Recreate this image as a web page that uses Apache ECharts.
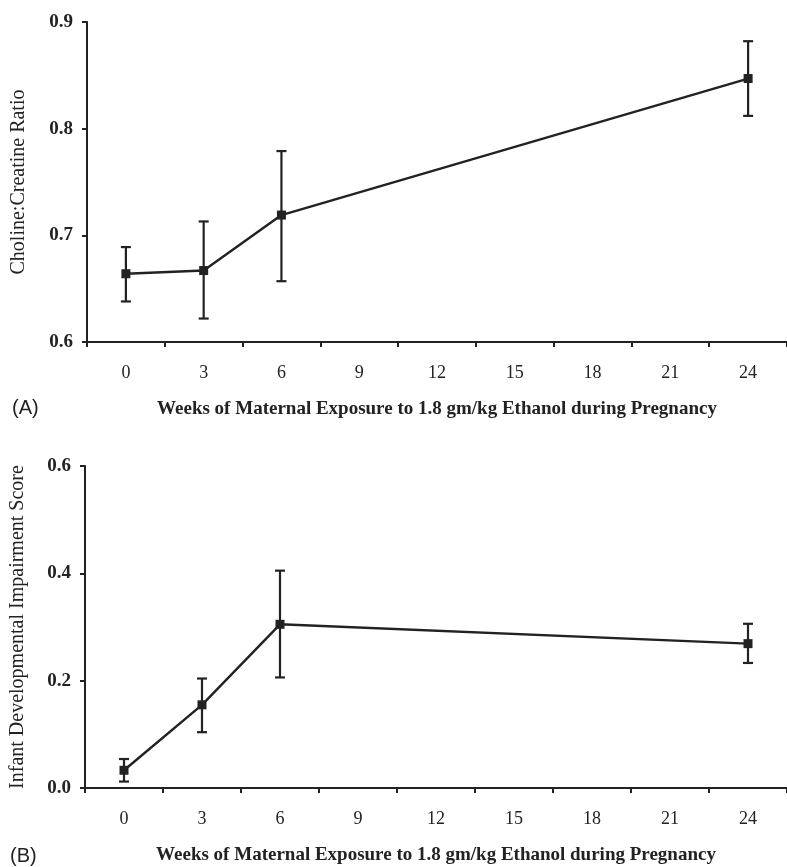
<!DOCTYPE html>
<html>
<head>
<meta charset="utf-8">
<script src="https://cdn.jsdelivr.net/npm/echarts@6/dist/echarts.min.js"></script>
<style>
  html, body { margin: 0; padding: 0; background: #fff; }
  #chart { width: 787px; height: 867px; }
</style>
</head>
<body>
<div id="chart"></div>
<script>
// weeks of exposure (category axis, same for both panels)
const weeks = ['0', '3', '6', '9', '12', '15', '18', '21', '24'];

// panel A: choline:creatine ratio, mean and error bar ends
const ratioMean = [0.664, 0.667, 0.719, null, null, null, null, null, 0.847];
const ratioLow  = [0.638, 0.622, 0.657, null, null, null, null, null, 0.812];
const ratioHigh = [0.689, 0.713, 0.779, null, null, null, null, null, 0.882];

// panel B: infant developmental impairment score
const scoreMean = [0.033, 0.155, 0.305, null, null, null, null, null, 0.269];
const scoreLow  = [0.012, 0.104, 0.206, null, null, null, null, null, 0.233];
const scoreHigh = [0.054, 0.204, 0.405, null, null, null, null, null, 0.306];

const ink = '#222';
const serif = '"Liberation Serif", "DejaVu Serif", serif';
const xName = 'Weeks of Maternal Exposure to 1.8 gm/kg Ethanol during Pregnancy';

function errBars(low, high) {
  return low.map((v, i) => v == null ? null : [i, v, high[i]]).filter(d => d);
}

function renderErr(params, api) {
  const lo = api.coord([api.value(0), api.value(1)]);
  const hi = api.coord([api.value(0), api.value(2)]);
  const w = 5;
  const style = { stroke: ink, lineWidth: 2.2 };
  return {
    type: 'group',
    children: [
      { type: 'line', shape: { x1: lo[0], y1: lo[1], x2: hi[0], y2: hi[1] }, style },
      { type: 'line', shape: { x1: lo[0] - w, y1: lo[1], x2: lo[0] + w, y2: lo[1] }, style },
      { type: 'line', shape: { x1: hi[0] - w, y1: hi[1], x2: hi[0] + w, y2: hi[1] }, style }
    ]
  };
}

function xAxis(gridIndex) {
  return {
    type: 'category', gridIndex, data: weeks, boundaryGap: true,
    axisLine: { lineStyle: { color: ink, width: 2 } },
    axisTick: { show: true, length: 5, inside: false, lineStyle: { color: ink, width: 2 } },
    axisLabel: { color: ink, fontFamily: serif, fontSize: 18, margin: 22 },
    name: xName, nameLocation: 'middle', nameGap: 58,
    nameTextStyle: { color: ink, fontFamily: serif, fontSize: 19, fontWeight: 'bold' },
    splitLine: { show: false }
  };
}

function yAxis(gridIndex, min, max, interval, name, gap) {
  return {
    type: 'value', gridIndex, min, max, interval,
    axisLine: { show: true, lineStyle: { color: ink, width: 2 } },
    axisTick: { show: true, length: 5, lineStyle: { color: ink, width: 2 } },
    axisLabel: { color: ink, fontFamily: serif, fontSize: 19, fontWeight: 'bold', margin: 14,
      formatter: v => v.toFixed(1) },
    splitLine: { show: false },
    name, nameLocation: 'middle', nameGap: gap, nameRotate: 90,
    nameTextStyle: { color: ink, fontFamily: serif, fontSize: 20 }
  };
}

function lineSeries(i, data) {
  return {
    type: 'line', xAxisIndex: i, yAxisIndex: i, data, connectNulls: true,
    symbol: 'rect', symbolSize: 9,
    itemStyle: { color: ink }, lineStyle: { color: ink, width: 2.4 },
    z: 3, animation: false
  };
}

const chart = echarts.init(document.getElementById('chart'));
chart.setOption({
  backgroundColor: '#fff',
  animation: false,
  grid: [
    { left: 87, top: 22, height: 320, right: -4 },
    { left: 85, top: 466, height: 322, right: -4 }
  ],
  xAxis: [xAxis(0), xAxis(1)],
  yAxis: [
    yAxis(0, 0.6, 0.9, 0.1, 'Choline:Creatine Ratio', 58),
    yAxis(1, 0, 0.6, 0.2, 'Infant Developmental Impairment Score', 57)
  ],
  graphic: [
    { type: 'text', left: 12, top: 398, style: { text: '(A)', fill: ink, font: '20px "Liberation Sans", sans-serif' } },
    { type: 'text', left: 10, top: 846, style: { text: '(B)', fill: ink, font: '20px "Liberation Sans", sans-serif' } }
  ],
  series: [
    lineSeries(0, ratioMean),
    { type: 'custom', xAxisIndex: 0, yAxisIndex: 0, renderItem: renderErr,
      data: errBars(ratioLow, ratioHigh), encode: { x: 0, y: [1, 2] }, z: 2 },
    lineSeries(1, scoreMean),
    { type: 'custom', xAxisIndex: 1, yAxisIndex: 1, renderItem: renderErr,
      data: errBars(scoreLow, scoreHigh), encode: { x: 0, y: [1, 2] }, z: 2 }
  ]
});
</script>
</body>
</html>
